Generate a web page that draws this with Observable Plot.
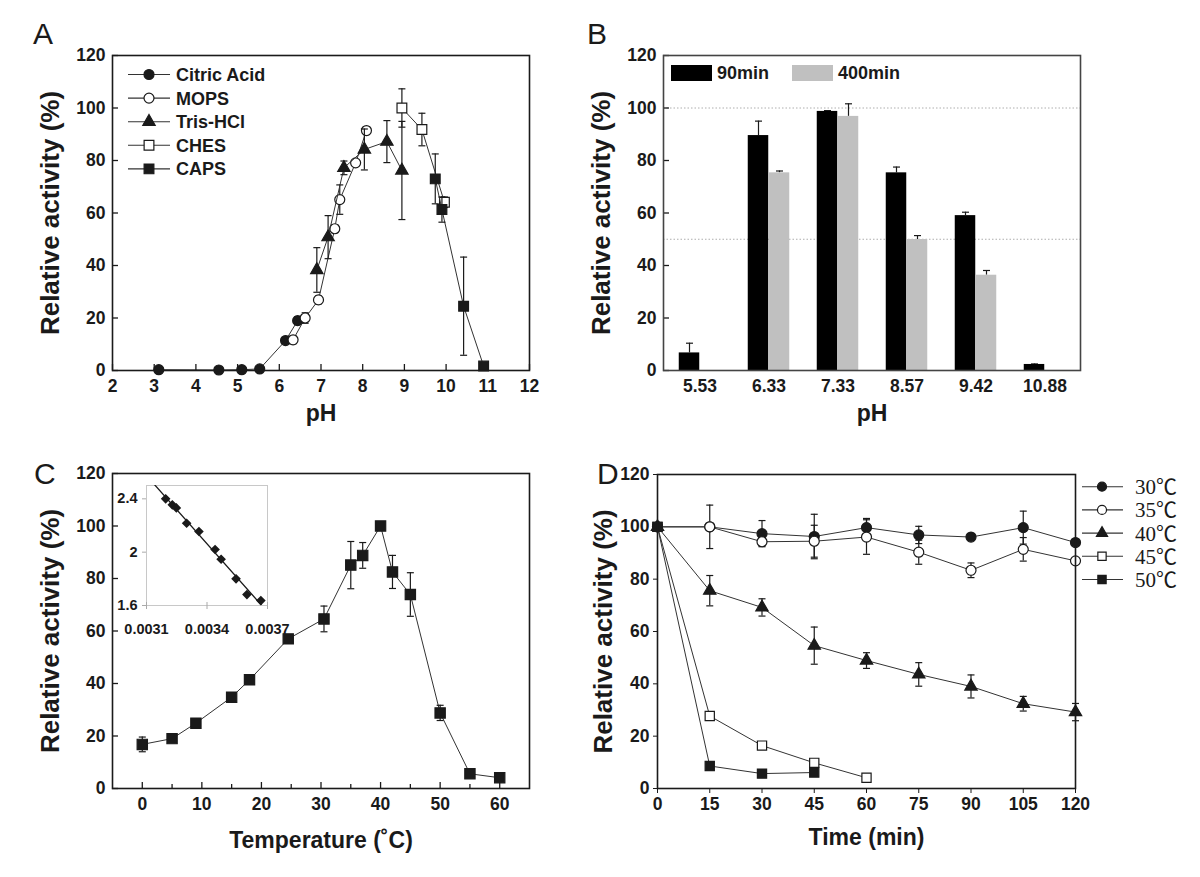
<!DOCTYPE html>
<html><head><meta charset="utf-8">
<script src="https://cdn.jsdelivr.net/npm/d3@7"></script>
<script src="https://cdn.jsdelivr.net/npm/@observablehq/plot@0.6"></script>
<style>
body{margin:0;background:#fff;}
#root{position:relative;width:1200px;height:877px;background:#fff;overflow:hidden}
#root svg{position:absolute}
</style></head><body><div id="root"></div><script>
// ---------- DATA ----------
const yTicks = [0, 20, 40, 60, 80, 100, 120];
const xTicksA = [2, 3, 4, 5, 6, 7, 8, 9, 10, 11, 12];
// Panel A: pH profile (pH, relative activity %, error)
const citricPH = [3.11, 4.55, 5.10, 5.53, 6.15, 6.44];
const citricAct = [0.3, 0.2, 0.3, 0.6, 11.4, 19.0];
const citricErr = [0, 0, 0, 0, 1.0, 1.5];
const mopsPH = [6.33, 6.62, 6.94, 7.33, 7.45, 7.83, 8.09];
const mopsAct = [11.7, 20.0, 26.9, 54.0, 65.1, 79.1, 91.4];
const mopsErr = [1.5, 2.0, 1.5, 1.5, 5.6, 1.0, 1.5];
const trisPH = [6.90, 7.17, 7.55, 8.04, 8.58, 8.94];
const trisAct = [38.3, 50.8, 77.2, 84.2, 87.2, 76.2];
const trisErr = [8.5, 8.2, 2.6, 7.8, 8.0, 18.7];
const chesPH = [8.94, 9.42, 9.96];
const chesAct = [100, 91.8, 64.1];
const chesErr = [7.3, 6.2, 2.0];
const capsPH = [9.74, 9.90, 10.42, 10.90];
const capsAct = [73.0, 61.3, 24.5, 1.7];
const capsErr = [9.5, 4.8, 18.7, 1.0];
// Panel B: pH stability
const bCats = ["5.53", "6.33", "7.33", "8.57", "9.42", "10.88"];
const b90 = [6.7, 89.5, 98.7, 75.3, 59.0, 2.3];
const b90Err = [3.7, 5.5, 0.3, 2.2, 1.3, 0.2];
const b400 = [0, 75.3, 96.8, 49.9, 36.3, 0];
const b400Err = [0, 0.7, 4.8, 1.5, 1.8, 0];
const bGrid = [50, 100];
// Panel C: temperature profile
const tempTicks = [0, 10, 20, 30, 40, 50, 60];
const tempMinor = [5, 15, 25, 35, 45, 55];
const tempC = [0, 5, 9, 15, 18, 24.5, 30.5, 35, 37, 40, 42, 45, 50, 55, 60];
const actC = [16.8, 19.0, 24.9, 34.8, 41.4, 57.0, 64.6, 85.1, 88.8, 100, 82.5, 73.9, 28.8, 5.6, 4.1];
const errC = [2.8, 0, 0, 0, 0, 0, 4.9, 9.0, 4.9, 0, 6.3, 8.3, 2.9, 0, 0];
// Inset (Arrhenius plot)
const insetXTicks = [0.0031, 0.0034, 0.0037];
const insetYTicks = [1.6, 2.0, 2.4];
const invT = [0.003195, 0.003228, 0.003248, 0.003299, 0.00336, 0.00344, 0.00347, 0.003544, 0.003598, 0.003667];
const logAct = [2.40, 2.355, 2.332, 2.217, 2.155, 2.02, 1.947, 1.80, 1.682, 1.637];
// Panel D: thermostability
const timeTicks = [0, 15, 30, 45, 60, 75, 90, 105, 120];
const timeD = [0, 15, 30, 45, 60, 75, 90, 105, 120];
const d30 = [100, 100, 97.4, 96.3, 99.7, 96.9, 96.1, 99.7, 94.0];
const d30Err = [0, 0, 5.0, 8.5, 3.5, 3.3, 0, 6.3, 0];
const d35 = [100, 100, 94.3, 94.5, 96.1, 90.3, 83.4, 91.4, 87.0];
const d35Err = [0, 8.3, 1.5, 6.1, 6.6, 4.6, 2.8, 4.5, 0];
const d40 = [100, 75.6, 69.2, 54.6, 48.9, 43.6, 39.0, 32.4, 29.2];
const d40Err = [0, 5.8, 3.3, 7.1, 3.0, 4.5, 4.4, 2.8, 3.3];
const time45 = [0, 15, 30, 45, 60];
const d45 = [100, 27.7, 16.4, 9.8, 4.1];
const d45Err = [0, 1.0, 1.0, 1.0, 0.8];
const time50 = [0, 15, 30, 45];
const d50 = [100, 8.6, 5.7, 6.1];
const d50Err = [0, 0.8, 0.8, 1.0];

// ---------- HELPERS ----------
const FONT = '"Liberation Sans", Arial, Helvetica, sans-serif';
const SERIF = '"Liberation Serif", "Noto Sans CJK SC", serif';
const root = document.getElementById("root");
const rows = (xs, ys, es) => xs.map((x, i) => ({x, y: ys[i], e: es ? es[i] : 0}));
const cap = {draw(ctx, size) { const w = Math.sqrt(size / Math.PI); ctx.moveTo(-w, 0); ctx.lineTo(w, 0); }};
const INK = "#1a1a1a";

function seriesMarks(data, spec) {
  const err = data.filter(d => d.e > 0);
  return [
    Plot.line(data, {x: "x", y: "y", stroke: "#333", strokeWidth: 1}),
    Plot.ruleX(err, {x: "x", y1: d => d.y - d.e, y2: d => d.y + d.e, stroke: INK, strokeWidth: 1.2}),
    Plot.dot(err, {x: "x", y: d => d.y + d.e, symbol: cap, r: 3.5, stroke: INK, strokeWidth: 1.2, fill: "none"}),
    Plot.dot(err, {x: "x", y: d => d.y - d.e, symbol: cap, r: 3.5, stroke: INK, strokeWidth: 1.2, fill: "none"}),
    Plot.dot(data, {x: "x", y: "y", symbol: spec.symbol, r: spec.r, fill: spec.fill, stroke: INK, strokeWidth: 1.2})
  ];
}
function place(svg, left, top) {
  svg.style.left = left + "px"; svg.style.top = top + "px";
  root.appendChild(svg);
}
const baseStyle = (fs) => ({fontFamily: FONT, fontSize: fs + "px", fontWeight: "bold", color: INK, background: "transparent", overflow: "visible"});
const yTitle = (dx) => Plot.text(["Relative activity (%)"], {frameAnchor: "left", textAnchor: "middle", rotate: -90, dx, fontSize: 26, fontWeight: "bold"});
const xTitle = (t, dy) => Plot.text([t], {frameAnchor: "bottom", dy, fontSize: 23, fontWeight: "bold"});

// ---------- PANEL A ----------
const specA = [
  {name: "Citric Acid", data: rows(citricPH, citricAct, citricErr), symbol: "circle", r: 5, fill: INK},
  {name: "MOPS", data: rows(mopsPH, mopsAct, mopsErr), symbol: "circle", r: 5, fill: "white"},
  {name: "Tris-HCl", data: rows(trisPH, trisAct, trisErr), symbol: "triangle", r: 4.6, fill: INK},
  {name: "CHES", data: rows(chesPH, chesAct, chesErr), symbol: "square", r: 5.5, fill: "white"},
  {name: "CAPS", data: rows(capsPH, capsAct, capsErr), symbol: "square", r: 5.5, fill: INK}
];
const fwA = 600 - 112 - 71, fhA = 440 - 55 - 70;
place(Plot.plot({
  width: 600, height: 440, marginLeft: 112, marginRight: 71, marginTop: 55, marginBottom: 70,
  style: baseStyle(17.5),
  x: {domain: [2, 12], ticks: xTicksA, tickSize: 0, tickPadding: 9, label: null},
  y: {domain: [0, 120], ticks: yTicks, tickSize: 0, tickPadding: 7, label: null},
  marks: [
    ...specA.flatMap(s => seriesMarks(s.data, s)),
    Plot.tickX(xTicksA, {x: d => d, insetTop: fhA - 6, stroke: INK, strokeWidth: 1.3}),
    Plot.tickY(yTicks, {y: d => d, insetRight: fwA - 6, stroke: INK, strokeWidth: 1.3}),
    Plot.frame({stroke: INK, strokeWidth: 1.6}),
    yTitle(-62), xTitle("pH", 50)
  ]
}), 0, 0);

// ---------- PANEL B ----------
const fwB = 600 - 63 - 120, fhB = 440 - 55 - 70, bw = fwB / bCats.length, barW = 21;
const bData90 = bCats.map((c, i) => ({c, y: b90[i], e: b90Err[i]})).filter(d => d.y > 0);
const bData400 = bCats.map((c, i) => ({c, y: b400[i], e: b400Err[i]})).filter(d => d.y > 0);
place(Plot.plot({
  width: 600, height: 440, marginLeft: 63, marginRight: 120, marginTop: 55, marginBottom: 70,
  style: baseStyle(17.5),
  x: {domain: bCats, padding: 0, tickSize: 0, tickPadding: 9, label: null},
  y: {domain: [0, 120], ticks: yTicks, tickSize: 0, tickPadding: 7, label: null},
  marks: [
    Plot.ruleY(bGrid, {stroke: "#999", strokeWidth: 0.8, strokeDasharray: "1.5,2"}),
    Plot.ruleX(bData90.filter(d => d.e > 0), {x: "c", y1: "y", y2: d => d.y + d.e, dx: -barW / 2, stroke: INK, strokeWidth: 1.2}),
    Plot.dot(bData90.filter(d => d.e > 0), {x: "c", y: d => d.y + d.e, dx: -barW / 2, symbol: cap, r: 3.5, stroke: INK, strokeWidth: 1.2, fill: "none"}),
    Plot.ruleX(bData400.filter(d => d.e > 0), {x: "c", y1: "y", y2: d => d.y + d.e, dx: barW / 2, stroke: INK, strokeWidth: 1.2}),
    Plot.dot(bData400.filter(d => d.e > 0), {x: "c", y: d => d.y + d.e, dx: barW / 2, symbol: cap, r: 3.5, stroke: INK, strokeWidth: 1.2, fill: "none"}),
    Plot.barY(bData90, {x: "c", y: "y", fill: "#000", insetLeft: bw / 2 - barW, insetRight: bw / 2}),
    Plot.barY(bData400, {x: "c", y: "y", fill: "#c0c0c0", insetLeft: bw / 2, insetRight: bw / 2 - barW}),
    Plot.tickY(yTicks, {y: d => d, insetRight: fwB - 6, stroke: INK, strokeWidth: 1.3}),
    Plot.frame({stroke: "#444", strokeWidth: 1.6}),
    yTitle(-62), xTitle("pH", 50)
  ]
}), 600, 0);

// ---------- PANEL C ----------
const fwC = 600 - 112 - 71, fhC = 457 - 53 - 89;
const dataC = rows(tempC, actC, errC);
place(Plot.plot({
  width: 600, height: 457, marginLeft: 112, marginRight: 71, marginTop: 53, marginBottom: 89,
  style: baseStyle(17.5),
  x: {domain: [-5, 65], ticks: tempTicks, tickSize: 0, tickPadding: 9, label: null},
  y: {domain: [0, 120], ticks: yTicks, tickSize: 0, tickPadding: 7, label: null},
  marks: [
    ...seriesMarks(dataC, {symbol: "square", r: 5.8, fill: INK}),
    Plot.tickX(tempTicks, {x: d => d, insetTop: fhC - 6, stroke: INK, strokeWidth: 1.3}),
    Plot.tickX(tempMinor, {x: d => d, insetTop: fhC - 4, stroke: INK, strokeWidth: 1.3}),
    Plot.tickY(yTicks, {y: d => d, insetRight: fwC - 6, stroke: INK, strokeWidth: 1.3}),
    Plot.frame({stroke: INK, strokeWidth: 1.6}),
    yTitle(-62), xTitle("Temperature (˚C)", 59)
  ]
}), 0, 420);

// inset
const mx = d3.mean(invT), my = d3.mean(logAct);
const slope = d3.sum(invT.map((x, i) => (x - mx) * (logAct[i] - my))) / d3.sum(invT.map(x => (x - mx) ** 2));
const icpt = my - slope * mx;
const insetXDomain = [0.0031, 0.0037], insetYDomain = [1.6, 2.5];
const fitLine = insetXDomain.map(x => ({x, y: icpt + slope * x}));
const fwI = 180 - 46 - 13, fhI = 180 - 15 - 45;
place(Plot.plot({
  width: 180, height: 180, marginLeft: 46, marginRight: 13, marginTop: 15, marginBottom: 45,
  style: baseStyle(14.5),
  x: {domain: insetXDomain, ticks: insetXTicks, tickSize: 0, tickPadding: 18, tickFormat: d => d.toFixed(4), label: null},
  y: {domain: insetYDomain, ticks: insetYTicks, tickSize: 0, tickPadding: 9, tickFormat: d => String(+d.toFixed(1)), label: null},
  marks: [
    Plot.frame({stroke: "#c8c8c8", strokeWidth: 1}),
    Plot.tickY(insetYTicks, {y: d => d, insetLeft: -4, insetRight: fwI, stroke: "#aaa"}),
    Plot.tickX(insetXTicks, {x: d => d, insetTop: fhI - 3, insetBottom: -4, stroke: "#aaa"}),
    Plot.line(fitLine, {x: "x", y: "y", stroke: INK, strokeWidth: 1.3, clip: true}),
    Plot.dot(invT.map((x, i) => ({x, y: logAct[i]})), {x: "x", y: "y", symbol: "diamond2", r: 3.4, fill: INK, stroke: INK})
  ]
}), 100, 470);

// ---------- PANEL D ----------
const specD = [
  {name: "30℃", data: rows(timeD, d30, d30Err), symbol: "circle", r: 5, fill: INK},
  {name: "35℃", data: rows(timeD, d35, d35Err), symbol: "circle", r: 5, fill: "white"},
  {name: "40℃", data: rows(timeD, d40, d40Err), symbol: "triangle", r: 4.6, fill: INK},
  {name: "45℃", data: rows(time45, d45, d45Err), symbol: "square", r: 5.2, fill: "white"},
  {name: "50℃", data: rows(time50, d50, d50Err), symbol: "square", r: 5.2, fill: INK}
];
place(Plot.plot({
  width: 600, height: 457, marginLeft: 57, marginRight: 125, marginTop: 54, marginBottom: 89,
  style: baseStyle(17.5),
  x: {domain: [0, 120], ticks: timeTicks, tickSize: 5, tickPadding: 4, label: null},
  y: {domain: [0, 120], ticks: yTicks, tickSize: 4, tickPadding: 4, label: null},
  marks: [
    ...specD.flatMap(s => seriesMarks(s.data, s)),
    Plot.frame({stroke: INK, strokeWidth: 1.6}),
    yTitle(-54), xTitle("Time (min)", 56)
  ]
}), 600, 420);

// ---------- OVERLAY: panel letters and legends ----------
const ov = d3.create("svg").attr("width", 1200).attr("height", 877)
  .style("left", "0px").style("top", "0px").style("pointer-events", "none");
const letters = [["A", 33, 43.5], ["B", 587, 43.5], ["C", 34, 483.5], ["D", 597, 483.5]];
letters.forEach(([t, x, y]) => ov.append("text").attr("x", x).attr("y", y).text(t)
  .attr("font-family", FONT).attr("font-size", 30).attr("fill", INK));
const symMap = {circle: d3.symbolCircle, triangle: d3.symbolTriangle, square: d3.symbolSquare};
function legendRows(specs, o) {
  specs.forEach((s, i) => {
    const y = o.y0 + i * o.dy;
    ov.append("line").attr("x1", o.lx1).attr("x2", o.lx2).attr("y1", y).attr("y2", y).attr("stroke", "#333").attr("stroke-width", 1.1);
    ov.append("path").attr("transform", `translate(${o.mx},${y})`)
      .attr("d", d3.symbol(symMap[s.symbol], Math.PI * (s.r * o.k) ** 2)())
      .attr("fill", s.fill).attr("stroke", INK).attr("stroke-width", 1.2);
    ov.append("text").attr("x", o.tx).attr("y", y).attr("dy", "0.36em").text(s.name)
      .attr("font-family", o.font).attr("font-size", o.fs).attr("font-weight", o.fw).attr("fill", INK);
  });
}
legendRows(specA, {y0: 74.5, dy: 23.6, lx1: 128, lx2: 170, mx: 149, tx: 176, font: FONT, fs: 18, fw: "bold", k: 1});
legendRows(specD, {y0: 486.7, dy: 23.2, lx1: 1082, lx2: 1123, mx: 1102, tx: 1135, font: SERIF, fs: 21, fw: "normal", k: 0.9});
// B legend
const legB = [{name: "90min", fill: "#000", x: 671, tx: 717}, {name: "400min", fill: "#c0c0c0", x: 792, tx: 838}];
legB.forEach(s => {
  ov.append("rect").attr("x", s.x).attr("y", 65).attr("width", 41).attr("height", 16).attr("fill", s.fill);
  ov.append("text").attr("x", s.tx).attr("y", 73).attr("dy", "0.36em").text(s.name)
    .attr("font-family", FONT).attr("font-size", 18).attr("font-weight", "bold").attr("fill", INK);
});
root.appendChild(ov.node());
</script></body></html>
